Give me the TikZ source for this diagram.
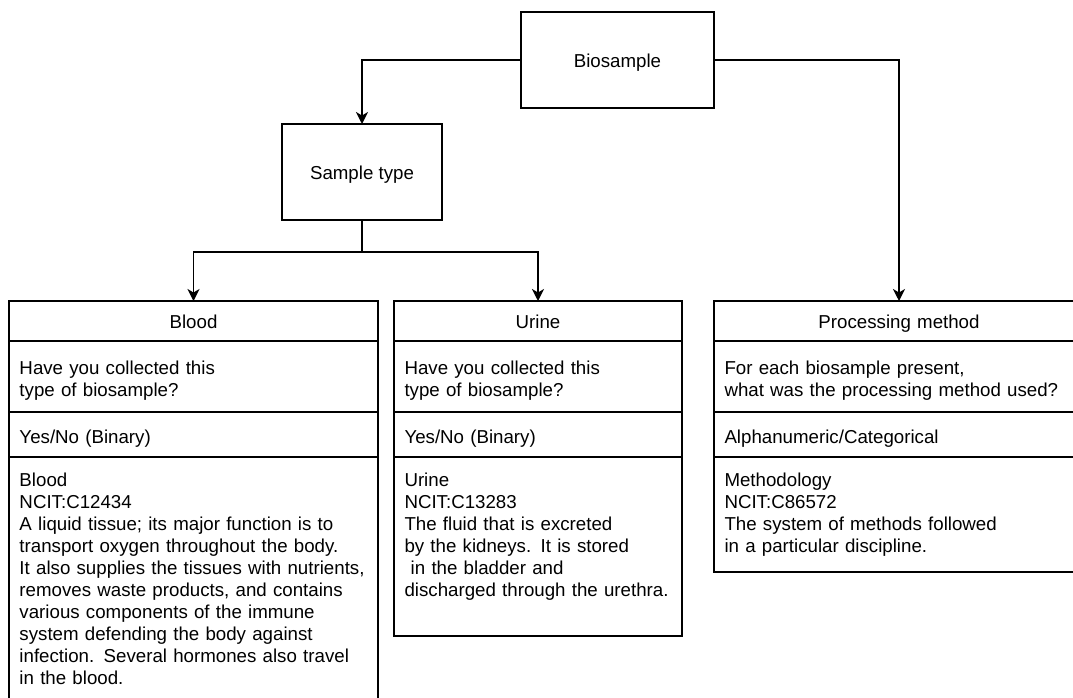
\documentclass[tikz,border=0pt]{standalone}
\usepackage{fontspec}
\setmainfont{Liberation Sans}
\usetikzlibrary{positioning,arrows.meta}

\begin{document}
\begin{tikzpicture}[x=1pt,y=-1pt,
  every node/.style={font=\fontsize{18.7}{22}\selectfont},
  box/.style={draw,line width=1.5pt,outer sep=0pt,inner xsep=10.5pt,inner ysep=0pt,minimum height=96pt,align=center,text height=16pt,text depth=2pt},
  cell/.style={draw,line width=1.5pt,outer sep=0pt,inner xsep=10.5pt,inner ysep=0pt,anchor=north},
  head/.style={cell,minimum height=40pt,align=center,text height=16.4pt,text depth=1.6pt},
  askcell/.style={cell,minimum height=71pt,align=left,text height=18pt,text depth=23pt},
  typecell/.style={cell,minimum height=45pt,align=left,text height=17.5pt,text depth=0.5pt},
  desccell/.style={cell,align=left,text height=29pt,text depth=#1},
  link/.style={line width=1.5pt},
  arr/.style={link,-{Stealth[length=12pt,width=12pt,inset=3.5pt]}}]
\clip (0,0) rectangle (1073,697);

% Top boxes
\node[box,minimum width=193pt] (bio) at (617.5,60) {Biosample};
\node[box,minimum width=160pt] (stype) at (362,172) {Sample type};

% Blood column
\node[head,text width=348pt] (blood) at (193.5,301) {Blood};
\node[askcell,text width=348pt,below=0pt of blood] (bloodq) {Have you collected this\\type of biosample?};
\node[typecell,text width=348pt,below=0pt of bloodq] (bloodt) {Yes/No (Binary)};
\node[desccell=320pt,text width=348pt,below=0pt of bloodt] (bloodd) {Blood\\NCIT:C12434\\A liquid tissue; its major function is to\\transport oxygen throughout the body.\\It also supplies the tissues with nutrients,\\removes waste products, and contains\\various components of the immune\\system defending the body against\\infection. Several hormones also travel\\in the blood.};

% Urine column
\node[head,text width=267pt] (urine) at (538,301) {Urine};
\node[askcell,text width=267pt,below=0pt of urine] (urineq) {Have you collected this\\type of biosample?};
\node[typecell,text width=267pt,below=0pt of urineq] (urinet) {Yes/No (Binary)};
\node[desccell=150pt,text width=267pt,below=0pt of urinet] (urined) {Urine\\NCIT:C13283\\The fluid that is excreted\\by the kidneys. It is stored\\\ in the bladder and\\discharged through the urethra.};

% Processing method column
\node[head,text width=349pt] (proc) at (899,301) {Processing method};
\node[askcell,text width=349pt,below=0pt of proc] (procq) {For each biosample present,\\what was the processing method used?};
\node[typecell,text width=349pt,below=0pt of procq] (proct) {Alphanumeric/Categorical};
\node[desccell=86pt,text width=349pt,below=0pt of proct] (procd) {Methodology\\NCIT:C86572\\The system of methods followed\\in a particular discipline.};

% Connectors
\coordinate (fork) at ([yshift=-32pt]stype.south);
\draw[arr] (bio.west) -| (stype.north);
\draw[arr] (bio.east) -| (proc.north);
\draw[link] (stype.south) -- (fork);
\draw[arr] (fork) -| (blood.north);
\draw[arr] (fork) -| (urine.north);
\end{tikzpicture}
\end{document}
